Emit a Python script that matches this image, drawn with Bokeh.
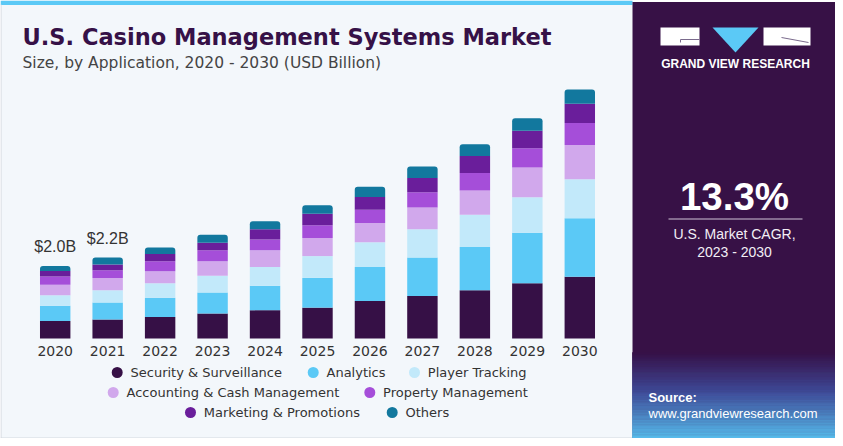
from bokeh.plotting import figure
from bokeh.models import Range1d, ColumnDataSource
from bokeh.core.properties import value
from bokeh.embed import file_html
from bokeh.resources import INLINE
import numpy as np

# ---------------- data ----------------
years = [2020, 2021, 2022, 2023, 2024, 2025, 2026, 2027, 2028, 2029, 2030]
year_labels = [str(y) for y in years]
security = [0.48, 0.52, 0.59, 0.69, 0.78, 0.85, 1.03, 1.17, 1.33, 1.52, 1.70]
analytics = [0.42, 0.47, 0.53, 0.58, 0.67, 0.82, 0.94, 1.06, 1.19, 1.39, 1.61]
player_tracking = [0.29, 0.34, 0.40, 0.46, 0.52, 0.60, 0.68, 0.78, 0.89, 0.98, 1.08]
accounting = [0.29, 0.34, 0.33, 0.40, 0.46, 0.50, 0.53, 0.60, 0.67, 0.82, 0.94]
property_mgmt = [0.23, 0.21, 0.28, 0.30, 0.30, 0.35, 0.37, 0.42, 0.48, 0.53, 0.61]
marketing = [0.15, 0.16, 0.20, 0.21, 0.28, 0.32, 0.35, 0.39, 0.47, 0.48, 0.53]
others = [0.14, 0.19, 0.18, 0.22, 0.22, 0.23, 0.28, 0.32, 0.32, 0.35, 0.39]
series_names = ["Security & Surveillance", "Analytics", "Player Tracking",
                "Accounting & Cash Management", "Property Management",
                "Marketing & Promotions", "Others"]
bar_labels = ["$2.0B", "$2.2B"]
cagr_text = "13.3%"
cagr_caption = ["U.S. Market CAGR,", "2023 - 2030"]
title_text = "U.S. Casino Management Systems Market"
subtitle_text = "Size, by Application, 2020 - 2030 (USD Billion)"

colors = ["#361046", "#5bc9f6", "#c2e9fa", "#d1a8ec", "#a54ed9", "#6a1e9b", "#12789e"]

# ---------------- geometry ----------------
W, H = 835, 438
OX, OY = 0, 0
px_per_year = 52.46
px_per_b = 36.3
x0_px = 54.7             # x of first bar centre
base_px = 338            # y of bar baseline
x_start = years[0] - (x0_px - OX) / px_per_year
x_end = x_start + W / px_per_year
y_start = -(OY + H - base_px) / px_per_b
y_end = y_start + H / px_per_b

p = figure(width=W, height=H, x_range=Range1d(x_start, x_end),
           y_range=Range1d(y_start, y_end), min_border=0,
           toolbar_location=None, output_backend="svg",
           x_axis_location=None, y_axis_location=None)
p.outline_line_color = None
p.grid.visible = False
p.background_fill_color = "white"
p.border_fill_color = "white"
p.title.visible = False

p.extra_x_ranges = {"px": Range1d(OX, OX + W)}
p.extra_y_ranges = {"px": Range1d(OY + H, OY)}
PX = dict(x_range_name="px", y_range_name="px")

FONT = value("DejaVu Sans")
FONT2 = value("Liberation Sans")

# card background
p.quad(left=[0], right=[632], top=[0], bottom=[438], fill_color="#f3f7fb",
       line_color=None, **PX)
p.quad(left=[0], right=[632], top=[0], bottom=[4.5], fill_color="#5bc9f6",
       line_color=None, **PX)
p.segment(x0=[0.5, 0], y0=[4, 437.5], x1=[0.5, 632], y1=[438, 437.5],
          line_color="#d3d8de", line_width=1, **PX)

# right panel
p.quad(left=[632], right=[836], top=[1.5], bottom=[438], fill_color="#371146",
       line_color=None, **PX)
c_top = np.array([0x37, 0x11, 0x46], dtype=float)
c_mid = np.array([0x3f, 0x4a, 0x98], dtype=float)
c_bot = np.array([0x58, 0xbd, 0xec], dtype=float)
n = 60
g_top, g_bot = 352.0, 438.0
edges = np.linspace(g_top, g_bot, n + 1)
gcols = []
for i in range(n):
    t = (i + 0.5) / n
    if t < 0.45:
        c = c_top + (c_mid - c_top) * (t / 0.45)
    else:
        c = c_mid + (c_bot - c_mid) * ((t - 0.45) / 0.55)
    gcols.append("#%02x%02x%02x" % tuple(int(round(v)) for v in c))
p.quad(left=[632] * n, right=[836] * n, top=list(edges[:-1]), bottom=list(edges[1:]),
       fill_color=gcols, line_color=gcols, line_width=0.6, **PX)

# logo
p.quad(left=[660, 763], right=[699, 810], top=[27, 27], bottom=[45, 45],
       fill_color="white", line_color=None, **PX)
p.patch(x=[712, 758, 735], y=[27, 27, 52], fill_color="#5bc9f6", line_color=None, **PX)
p.multi_line(xs=[[680, 680, 699], [781, 808]], ys=[[42, 39, 39], [37, 42]],
             line_color="#7a6a8c", line_width=1, **PX)
p.text(x=[735], y=[63], text=["GRAND VIEW RESEARCH"], text_font=FONT2,
       text_font_style="bold", text_font_size="12px", text_color="white",
       text_align="center", text_baseline="middle", **PX)

# CAGR block
p.text(x=[734], y=[196], text=[cagr_text], text_font=FONT2, text_font_style="bold",
       text_font_size="38.5px", text_color="white", text_align="center",
       text_baseline="middle", **PX)
p.segment(x0=[668], y0=[218.5], x1=[802], y1=[218.5], line_color="#cfc6d6", line_width=1.2, **PX)
p.text(x=[734, 734], y=[233, 251], text=cagr_caption, text_font=FONT2,
       text_font_size="14px", text_color="#f2eef5", text_align="center",
       text_baseline="middle", **PX)

# source
p.text(x=[648], y=[397], text=["Source:"], text_font=FONT2, text_font_style="bold",
       text_font_size="13px", text_color="white", text_baseline="middle", **PX)
p.text(x=[648], y=[413], text=["www.grandviewresearch.com"], text_font=FONT2,
       text_font_size="13px", text_color="white", text_baseline="middle", **PX)

# titles
p.text(x=[22], y=[36.5], text=[title_text], text_font=FONT, text_font_style="bold",
       text_font_size="22.5px", text_color="#361147", text_baseline="middle", **PX)
p.text(x=[22], y=[62.5], text=[subtitle_text], text_font=FONT,
       text_font_size="15.5px", text_color="#444444", text_baseline="middle", **PX)

# ---------------- bars ----------------
keys = ["s0", "s1", "s2", "s3", "s4", "s5", "s6"]
data = dict(year=years, s0=security, s1=analytics, s2=player_tracking, s3=accounting,
            s4=property_mgmt, s5=marketing, s6=others)
src = ColumnDataSource(data)
renderers = p.vbar_stack(keys, x="year", width=0.58, color=colors, source=src,
                         line_color=None)
try:
    renderers[-1].glyph.border_radius = (3, 3, 0, 0)
except Exception:
    pass

totals = [sum(v) for v in zip(security, analytics, player_tracking, accounting,
                              property_mgmt, marketing, others)]
p.text(x=years[:len(bar_labels)], y=totals[:len(bar_labels)], text=bar_labels,
       text_font=FONT2, text_font_size="16px", text_color="#333333",
       text_align="center", text_baseline="middle", y_offset=-19)

# year labels
p.text(x=years, y=[0] * len(years), text=year_labels, text_font=FONT,
       text_font_size="14px", text_color="#333333", text_align="center",
       text_baseline="middle", y_offset=12)

# ---------------- legend ----------------
leg_x = [116.7, 312.7, 414.0, 112.7, 369.3, 190.0, 391.7]
leg_y = [372, 372, 372, 392, 392, 412, 412]
p.scatter(x=leg_x, y=leg_y, size=11, marker="circle", fill_color=colors,
          line_color=None, **PX)
p.text(x=[v + 13.3 for v in leg_x], y=leg_y, text=series_names, text_font=FONT,
       text_font_size="13px", text_color="#333333", text_baseline="middle", **PX)

open("out.html", "w").write(file_html(p, INLINE))
